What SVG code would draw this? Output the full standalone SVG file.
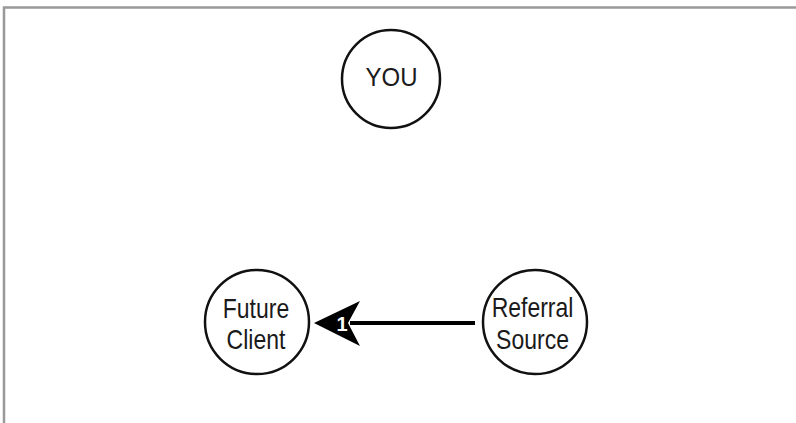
<svg xmlns="http://www.w3.org/2000/svg" width="796" height="423" viewBox="0 0 796 423">
<style>
.node circle{fill:#fff;stroke:#111;stroke-width:2.5}
.node text{font-family:"Liberation Sans",Arial,sans-serif;font-size:23px;fill:#1a1a1a;text-anchor:middle}
.frame{stroke:#999;stroke-width:2.5;fill:none}
</style>
<rect width="796" height="423" fill="#fff"/>
<path class="frame" d="M4,423 V7.5 H796"/>
<g id="you" class="node">
<circle cx="391" cy="79" r="49"/>
<text transform="translate(391.5,86) scale(1,1.08)" style="font-size:24px">YOU</text>
</g>
<g id="future-client" class="node">
<circle cx="257" cy="322" r="52"/>
<text transform="translate(256,318) scale(1,1.18)">Future</text>
<text transform="translate(256,349) scale(1,1.18)">Client</text>
</g>
<g id="referral-source" class="node">
<circle cx="535" cy="322" r="52"/>
<text transform="translate(532.5,317) scale(1,1.18)">Referral</text>
<text transform="translate(532.5,349) scale(1,1.18)">Source</text>
</g>
<g id="connectors">
<line x1="475" y1="323" x2="350" y2="323" stroke="#000" stroke-width="4"/>
<path d="M314,323 L360,301 L348,323 L360,346 Z" fill="#000"/>
<text x="342" y="330.5" font-family="Liberation Sans,Arial,sans-serif" font-weight="bold" font-size="20" fill="#fff" text-anchor="middle">1</text>
</g>
</svg>
